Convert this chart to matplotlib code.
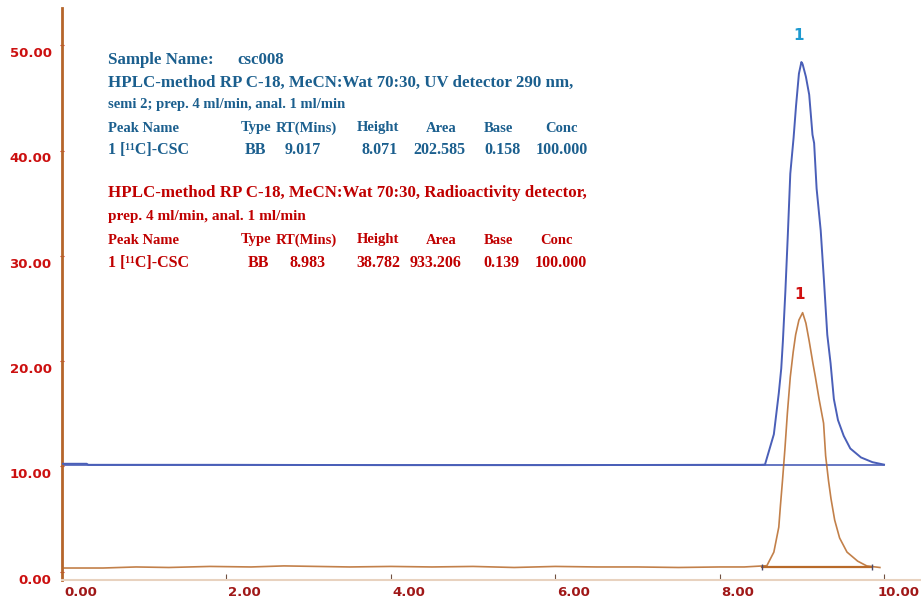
import matplotlib
matplotlib.use("Agg")
import matplotlib.pyplot as plt
import matplotlib.transforms as mtransforms
import numpy as np

# ---------------- data ----------------
uv_time = [0.0, 0.30, 0.32, 2.0, 4.0, 6.0, 8.0, 8.50, 8.552, 8.66, 8.72, 8.75, 8.77, 8.80, 8.83,
           8.86, 8.90, 8.93, 8.965, 8.995, 9.01, 9.05, 9.09, 9.13, 9.15, 9.18, 9.23,
           9.27, 9.31, 9.35, 9.39, 9.44, 9.51, 9.59, 9.72, 9.86, 10.0]
uv_signal = [10.25, 10.25, 10.15, 10.15, 10.12, 10.12, 10.15, 10.15, 10.17, 13.05, 16.95, 19.3, 21.9,
             26.6, 32.0, 37.8, 41.2, 44.25, 47.3, 48.4, 48.2, 47.0, 45.3, 41.5, 40.7,
             36.4, 32.4, 27.6, 22.5, 19.8, 16.4, 14.4, 12.9, 11.7, 10.85, 10.4, 10.17]

rad_time = [0.0, 0.5, 0.9, 1.3, 1.8, 2.3, 2.7, 3.1, 3.5, 4.0, 4.5, 5.0, 5.5, 6.0, 6.5, 7.0,
            7.5, 8.0, 8.3, 8.575, 8.66, 8.72, 8.74, 8.765, 8.795, 8.825, 8.86, 8.895, 8.925,
            8.965, 9.01, 9.05, 9.09, 9.135, 9.165, 9.21, 9.265, 9.29, 9.325, 9.355, 9.40,
            9.46, 9.55, 9.68, 9.79, 9.95]
rad_signal = [0.35, 0.35, 0.45, 0.4, 0.5, 0.45, 0.55, 0.5, 0.45, 0.5, 0.45, 0.5, 0.4, 0.5, 0.45, 0.45,
              0.4, 0.45, 0.45, 0.57, 1.86, 4.23, 6.27, 8.64, 11.7, 15.1, 18.5, 20.85, 22.5,
              23.9, 24.6, 23.6, 21.9, 19.8, 18.5, 16.4, 14.1, 11.0, 8.64, 6.94, 4.9,
              3.2, 1.86, 1.0, 0.55, 0.4]

rad_base_time = [8.51, 9.85]
rad_base_value = [0.4, 0.4]
uv_base_time = [0.0, 10.0]
uv_base_value = [10.15, 10.15]

x_ticks = [0, 2, 4, 6, 8, 10]
x_tick_labels = ["0.00", "2.00", "4.00", "6.00", "8.00", "10.00"]
y_ticks = [0, 10, 20, 30, 40, 50]
y_tick_labels = ["0.00", "10.00", "20.00", "30.00", "40.00", "50.00"]

uv_peak_label = "1"
uv_peak_pos = (8.96, 48.4)
rad_peak_label = "1"
rad_peak_pos = (8.97, 24.6)

blue_text = [
    ("Sample Name:", 108, 60), ("csc008", 237, 60),
    ("HPLC-method RP C-18, MeCN:Wat 70:30, UV detector 290 nm,", 108, 83),
]
blue_small = [("semi 2; prep. 4 ml/min, anal. 1 ml/min", 108, 105)]
table_header = ["Peak Name", "Type", "RT(Mins)", "Height", "Area", "Base", "Conc"]
header_x = [108, 241, 276, 357, 426, 484, 545]
uv_row = ["1 [\u00b9\u00b9C]-CSC", "BB", "9.017", "8.071", "202.585", "0.158", "100.000"]
uv_row_x = [108, 245, 285, 361, 413, 484, 536]
red_text = [("HPLC-method RP C-18, MeCN:Wat 70:30, Radioactivity detector,", 108, 193)]
red_small = [("prep. 4 ml/min, anal. 1 ml/min", 108, 216)]
red_header_x = [108, 241, 276, 357, 426, 484, 540]
rad_row = ["1 [\u00b9\u00b9C]-CSC", "BB", "8.983", "38.782", "933.206", "0.139", "100.000"]
rad_row_x = [108, 248, 290, 356, 410, 483, 535]

# ---------------- figure ----------------
W, H = 921, 604
fig = plt.figure(figsize=(W / 100, H / 100), dpi=100)
left, right, bottom, top = 62, 921, 580, 8
ax = fig.add_axes([left / W, (H - bottom) / H, (right - left) / W, (bottom - top) / H])
ax.set_xlim(0, (right - left) / 82.2)
ax.set_ylim(-(bottom - 571.7) / 10.53, (571.7 - top) / 10.53)

ax.plot(uv_base_time, uv_base_value, color="#4a5fb8", lw=1.2, zorder=2)
ax.plot(uv_time, uv_signal, color="#4a5fb8", lw=1.4, zorder=3)
ax.plot(rad_time, rad_signal, color="#b86a2a", lw=1.2, alpha=0.85, zorder=3)
ax.plot(rad_base_time, rad_base_value, color="#b86a2a", lw=1.6, zorder=2)
ax.plot(rad_base_time, rad_base_value, ls="none", marker="|", ms=5, color="#4a4a6a", zorder=4)

ax.text(uv_peak_pos[0], uv_peak_pos[1] + 1.8, uv_peak_label, color="#1e9ad0", fontsize=11,
        fontweight="bold", ha="center", va="bottom", fontfamily="DejaVu Sans")
ax.text(rad_peak_pos[0], rad_peak_pos[1] + 1.0, rad_peak_label, color="#d01010", fontsize=11,
        fontweight="bold", ha="center", va="bottom", fontfamily="DejaVu Sans")

# spines
for s in ["top", "right"]:
    ax.spines[s].set_visible(False)
ax.spines["left"].set_color("#b5652a")
ax.spines["left"].set_linewidth(2)
ax.spines["bottom"].set_color("#e8d2bf")
ax.spines["bottom"].set_linewidth(1.5)

ax.set_xticks(x_ticks)
ax.set_xticklabels(x_tick_labels)
ax.set_yticks(y_ticks)
ax.set_yticklabels(y_tick_labels)
ax.tick_params(axis="y", direction="inout", length=3, color="#d02020", labelcolor="#cc1010",
               labelsize=9.5, pad=6)
ax.tick_params(axis="x", direction="in", length=4, color="#705040", labelcolor="#a01818",
               labelsize=9.5, pad=4)
for lab in ax.get_yticklabels():
    lab.set_fontweight("bold")
    lab.set_transform(lab.get_transform() + mtransforms.ScaledTranslation(0, -7 / 100, fig.dpi_scale_trans))
xlabs = ax.get_xticklabels()
for i, lab in enumerate(xlabs):
    lab.set_fontweight("bold")
    lab.set_horizontalalignment("left")
    dx = 2 if i < len(xlabs) - 1 else -6
    lab.set_transform(lab.get_transform() + mtransforms.ScaledTranslation(dx / 100, 0, fig.dpi_scale_trans))

# text blocks (pixel coordinates in figure)
def put(s, x, y, color, size, weight="bold"):
    fig.text(x / W, 1 - y / H, s, color=color, fontsize=size, fontweight=weight,
             fontfamily="Liberation Serif", va="center", ha="left")

BLUE = "#1b5f8e"
RED = "#c00000"
for s, x, y in blue_text:
    put(s, x, y, BLUE, 12.2)
for s, x, y in blue_small:
    put(s, x, y, BLUE, 10.5)
for s, x in zip(table_header, header_x):
    put(s, x, 128, BLUE, 10.5)
for s, x in zip(uv_row, uv_row_x):
    put(s, x, 150, BLUE, 11.5)
for s, x, y in red_text:
    put(s, x, y, RED, 12.2)
for s, x, y in red_small:
    put(s, x, y, RED, 11)
for s, x in zip(table_header, red_header_x):
    put(s, x, 240, RED, 10.5)
for s, x in zip(rad_row, rad_row_x):
    put(s, x, 263, RED, 11.5)

fig.savefig("out.png", dpi=100)
